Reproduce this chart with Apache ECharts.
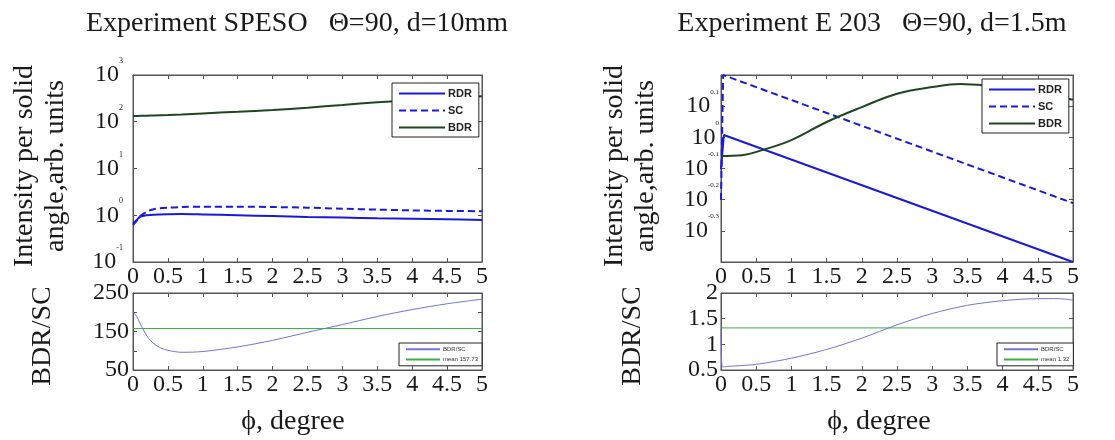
<!DOCTYPE html>
<html>
<head>
<meta charset="utf-8">
<title>BDR / SC intensity</title>
<script src="https://cdn.jsdelivr.net/npm/echarts@6/dist/echarts.min.js"></script>
<style>
  html, body { margin: 0; padding: 0; background: #fff; }
  #chart { width: 1115px; height: 440px; }
</style>
</head>
<body>
<div id="chart"></div>
<script>
// ---- SPESO, Theta=90, d=10mm : intensity per solid angle (log scale) ----
const phiL = [0, 0.05, 0.1, 0.2, 0.3, 0.5, 0.7, 1, 1.5, 2, 2.5, 3, 3.5, 4, 4.5, 5];
const rdrL = [0.66, 0.78, 0.92, 1.0, 1.03, 1.05, 1.06, 1.04, 1.0, 0.96, 0.92, 0.89, 0.86, 0.84, 0.82, 0.79];
const scL  = [0.62, 0.75, 0.95, 1.2, 1.35, 1.45, 1.5, 1.52, 1.52, 1.5, 1.45, 1.38, 1.32, 1.27, 1.24, 1.22];
const bdrL = [133, 133, 134, 135, 136, 139, 143, 151, 163, 178, 200, 228, 261, 290, 320, 350];

// ---- SPESO : BDR/SC ratio ----
const phiRatioL = [0, 0.05, 0.1, 0.2, 0.3, 0.4, 0.5, 0.7, 1, 1.5, 2, 2.5, 3, 3.5, 4, 4.5, 5];
const ratioL    = [200, 190, 172, 138, 118, 107, 101, 96, 98, 110, 127, 148, 168, 189, 207, 222, 234];
const meanL = 157.73;

// ---- E 203, Theta=90, d=1.5m : intensity per solid angle (log scale) ----
const phiRdrR = [0, 0.04, 5];
const rdrR    = [0.79, 1.017, 0.398];
const phiScR  = [0, 0.03, 5];
const scR     = [0.63, 1.585, 0.615];
const phiBdrR = [0, 0.3, 0.55, 1, 1.5, 2, 2.5, 3, 3.4, 3.8, 4.2, 4.6, 5];
const bdrR    = [0.871, 0.876, 0.905, 0.98, 1.12, 1.25, 1.38, 1.45, 1.483, 1.462, 1.42, 1.37, 1.32];

// ---- E 203 : BDR/SC ratio ----
const phiRatioR = [0, 0.02, 0.1, 0.5, 1, 1.5, 2, 2.5, 3, 3.5, 4, 4.5, 4.8, 5];
const ratioR    = [1.3, 0.56, 0.57, 0.61, 0.73, 0.9, 1.12, 1.38, 1.6, 1.76, 1.85, 1.89, 1.89, 1.86];
const meanR = 1.32;

// tick labels
const phiTicks = [0, 0.5, 1, 1.5, 2, 2.5, 3, 3.5, 4, 4.5, 5];
const decadeTicksL = [-1, 0, 1, 2, 3];
const expTicksR = ['0.1', '0', '-0.1', '-0.2', '-0.3'];
const ratioTicksL = [50, 150, 250];
const ratioTicksR = [0.5, 1, 1.5, 2];

const SERIF = 'Liberation Serif';
const INK = '#1a1a1a';
const FRAME = '#555';
const BLUE = '#1a1ad6';
const GREEN = '#1e4620';

const zip = (xs, ys) => xs.map((x, i) => [x, ys[i]]);

const powerRich = {
  b: { fontFamily: SERIF, fontSize: 24, color: INK, lineHeight: 36 },
  e: { fontFamily: SERIF, fontSize: 8, color: INK, verticalAlign: 'top', lineHeight: 10 }
};

const grids = [
  { left: 133, top: 75, width: 349, height: 187 },
  { left: 133, top: 293, width: 349, height: 77 },
  { left: 721, top: 75, width: 352, height: 187 },
  { left: 721, top: 293, width: 352, height: 77 }
].map(g => Object.assign({ show: true, borderColor: FRAME, borderWidth: 1, backgroundColor: '#fff' }, g));

function phiAxis(gridIndex, position, withLabels) {
  return {
    type: 'value', gridIndex, position, min: 0, max: 5, interval: 0.5,
    axisLine: { show: true, onZero: false, lineStyle: { color: FRAME } },
    axisTick: { show: true, inside: true, length: 4, lineStyle: { color: FRAME } },
    splitLine: { show: false },
    axisLabel: {
      show: withLabels, margin: 3, fontFamily: SERIF, fontSize: 24, color: INK,
      formatter: v => (phiTicks.some(t => Math.abs(t - v) < 1e-9) ? String(+v.toFixed(1)) : '')
    }
  };
}

function frameAxisY(base, position) {
  return Object.assign({}, base, {
    position,
    axisLabel: { show: false },
    name: ''
  });
}

const yLogL = {
  type: 'log', gridIndex: 0, min: 0.1, max: 1000, logBase: 10,
  axisLine: { show: true, onZero: false, lineStyle: { color: FRAME } },
  axisTick: { show: true, inside: true, length: 4, lineStyle: { color: FRAME } },
  splitLine: { show: false },
  axisLabel: {
    margin: 10,
    formatter: v => {
      const p = Math.round(Math.log10(v));
      return decadeTicksL.includes(p) ? '{b|10}{e|' + p + '}' : '';
    },
    rich: powerRich
  }
};
const yRatioL = {
  type: 'value', gridIndex: 1, min: 50, max: 250, interval: 50,
  axisLine: { show: true, onZero: false, lineStyle: { color: FRAME } },
  axisTick: { show: true, inside: true, length: 4, lineStyle: { color: FRAME } },
  splitLine: { show: false },
  axisLabel: {
    margin: 4, fontFamily: SERIF, fontSize: 24, color: INK,
    formatter: v => (ratioTicksL.includes(v) ? String(v) : '')
  }
};
const yExpR = {
  type: 'value', gridIndex: 2, min: -0.4, max: 0.2, interval: 0.1,
  axisLine: { show: true, onZero: false, lineStyle: { color: FRAME } },
  axisTick: { show: true, inside: true, length: 4, lineStyle: { color: FRAME } },
  splitLine: { show: false },
  axisLabel: {
    margin: 2,
    formatter: v => {
      const s = String(Math.round(v * 10) / 10);
      return expTicksR.includes(s) ? '{b|10}{e|' + s + '}' : '';
    },
    rich: {
      b: powerRich.b,
      e: { fontFamily: SERIF, fontSize: 7, color: INK, verticalAlign: 'top', lineHeight: 10 }
    }
  }
};
const yRatioR = {
  type: 'value', gridIndex: 3, min: 0.5, max: 2, interval: 0.5,
  axisLine: { show: true, onZero: false, lineStyle: { color: FRAME } },
  axisTick: { show: true, inside: true, length: 4, lineStyle: { color: FRAME } },
  splitLine: { show: false },
  axisLabel: {
    margin: 3, fontFamily: SERIF, fontSize: 24, color: INK,
    formatter: v => (ratioTicksR.some(t => Math.abs(t - v) < 1e-9) ? String(v) : '')
  }
};

const xAxes = [
  phiAxis(0, 'bottom', true), phiAxis(1, 'bottom', true),
  phiAxis(2, 'bottom', true), phiAxis(3, 'bottom', true),
  phiAxis(0, 'top', false), phiAxis(1, 'top', false),
  phiAxis(2, 'top', false), phiAxis(3, 'top', false)
];
const yAxes = [
  yLogL, yRatioL, yExpR, yRatioR,
  frameAxisY(yLogL, 'right'), frameAxisY(yRatioL, 'right'),
  frameAxisY(yExpR, 'right'), frameAxisY(yRatioR, 'right')
];

function line(name, xi, yi, data, color, width, type, smooth) {
  return {
    name, type: 'line', xAxisIndex: xi, yAxisIndex: yi, data,
    symbol: 'none', smooth: smooth || false, animation: false,
    lineStyle: { color, width, type: type || 'solid' },
    itemStyle: { color }, z: 3
  };
}

const log10 = vs => vs.map(v => Math.log10(v));

const series = [
  line('RDR', 0, 0, zip(phiL, rdrL), BLUE, 2, 'solid', 0.3),
  line('SC', 0, 0, zip(phiL, scL), BLUE, 2, [7, 4], 0.3),
  line('BDR', 0, 0, zip(phiL, bdrL), GREEN, 2, 'solid', 0.3),
  line('BDR/SC', 1, 1, zip(phiRatioL, ratioL), '#7474de', 1, 'solid', 0.3),
  line('mean 157.73', 1, 1, [[0, meanL], [5, meanL]], '#3fae45', 1),
  line('RDR', 2, 2, zip(phiRdrR, log10(rdrR)), BLUE, 2),
  line('SC', 2, 2, zip(phiScR, log10(scR)), BLUE, 2, [7, 4]),
  line('BDR', 2, 2, zip(phiBdrR, log10(bdrR)), GREEN, 2, 'solid', 0.4),
  line('BDR/SC', 3, 3, zip(phiRatioR, ratioR), '#7474de', 1, 'solid', 0.3),
  line('mean 1.32', 3, 3, [[0, meanR], [5, meanR]], '#3fae45', 1)
];

// legend icons: line only, the symbol marker is made invisible
const hiddenMarker = { color: 'rgba(0,0,0,0)', borderWidth: 0, opacity: 0 };

function bigLegend(left, top) {
  return {
    data: ['RDR', 'SC', 'BDR'], orient: 'vertical', left, top,
    selectedMode: false, backgroundColor: '#fff', borderColor: '#222', borderWidth: 1,
    padding: [5, 7, 4, 6], itemGap: 6, itemWidth: 46, itemHeight: 12,
    itemStyle: hiddenMarker,
    textStyle: { fontFamily: 'Liberation Sans', fontSize: 11, fontWeight: 'bold', color: '#222', padding: [0, 0, 0, -2] }
  };
}
function smallLegend(left, top, meanName) {
  return {
    data: ['BDR/SC', meanName], orient: 'vertical', left, top,
    selectedMode: false, backgroundColor: '#fff', borderColor: '#222', borderWidth: 1,
    padding: [3, 4, 3, 6], itemGap: 4, itemWidth: 34, itemHeight: 8,
    itemStyle: hiddenMarker,
    textStyle: { fontFamily: 'Liberation Sans', fontSize: 6, color: '#333', padding: [0, 0, 0, -2] }
  };
}

function label(text, x, y, size, rotate, lineHeight) {
  return {
    type: 'text', x, y, rotation: rotate ? Math.PI / 2 : 0,
    style: {
      text, fill: INK, fontFamily: SERIF, fontSize: size,
      lineHeight: lineHeight || size,
      align: 'center', verticalAlign: 'middle',
      textAlign: 'center', textVerticalAlign: 'middle'
    }
  };
}

const option = {
  animation: false,
  backgroundColor: '#fff',
  grid: grids,
  xAxis: xAxes,
  yAxis: yAxes,
  series,
  legend: [
    bigLegend(392, 83), smallLegend(399, 343, 'mean 157.73'),
    bigLegend(982, 79), smallLegend(997, 343, 'mean 1.32')
  ],
  graphic: [
    label('Experiment SPESO   \u0398=90, d=10mm', 297, 24, 28),
    label('Experiment E 203   \u0398=90, d=1.5m', 872, 24, 28),
    label('Intensity per solid\nangle,arb. units', 40, 166, 28, true, 31),
    label('Intensity per solid\nangle,arb. units', 630, 166, 28, true, 31),
    label('BDR/SC', 43, 336, 28, true),
    label('BDR/SC', 633, 336, 28, true),
    label('\u03D5, degree', 293, 422, 28),
    label('\u03D5, degree', 879, 422, 28)
  ]
};

const chart = echarts.init(document.getElementById('chart'), null, { renderer: 'canvas' });
chart.setOption(option);
</script>
</body>
</html>
